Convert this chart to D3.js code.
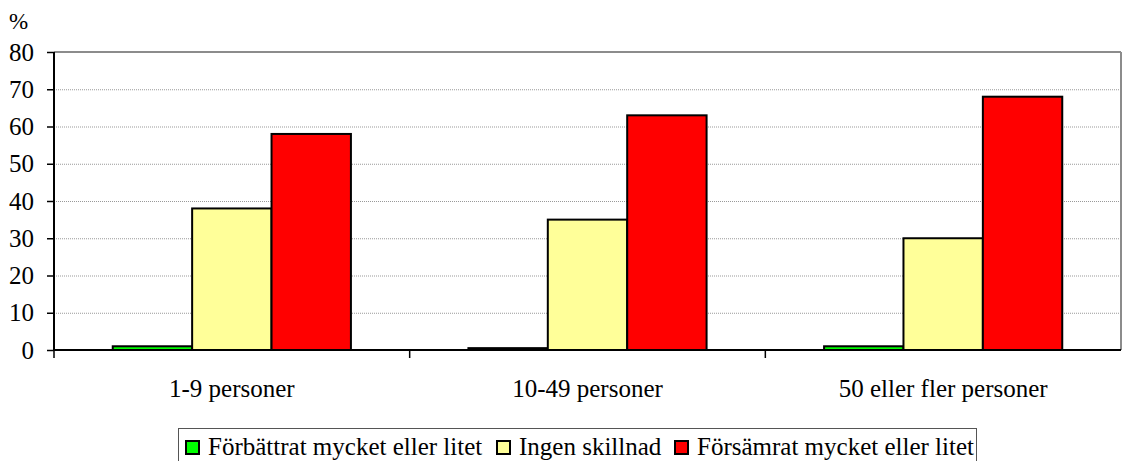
<!DOCTYPE html>
<html>
<head>
<meta charset="utf-8">
<script src="https://cdn.jsdelivr.net/npm/d3@7"></script>
<style>
  html, body { margin: 0; padding: 0; background: #fff; }
  text { font-family: 'Liberation Serif' !important; }
</style>
</head>
<body>
<div id="chart"></div>
<script>
//Datos
const categories = ['1-9 personer', '10-49 personer', '50 eller fler personer'];
const series = ['Förbättrat mycket eller litet', 'Ingen skillnad', 'Försämrat mycket eller litet'];
const forbattrat = [1, 0.5, 1];
const ingenSkillnad = [38, 35, 30];
const forsamrat = [58, 63, 68];
const yTicks = [0, 10, 20, 30, 40, 50, 60, 70, 80];

const values = [forbattrat, ingenSkillnad, forsamrat];
const colors = ['#00FF00', '#FFFF99', '#FF0000'];

const W = 1122, H = 461;
const margin = {top: 52, right: 1, bottom: 111, left: 54};
const width = W - margin.left - margin.right,
      height = H - margin.top - margin.bottom;
const FONT = 25;
const FAMILY = "'Liberation Serif'";

//fuente en cada texto
function serif(sel, size) {
    sel.attr('font-size', size).style('font-family', FAMILY);
}

let svg = d3.select('#chart').append('svg')
    .attr('width', W).attr('height', H);

let g = svg.append('g')
    .attr('transform', 'translate(' + margin.left + ',' + margin.top + ')');

let x0 = d3.scaleBand().domain(categories).range([0, width]);
let x1 = d3.scaleBand().domain(series).range([0, x0.bandwidth()])
    .paddingInner(0).paddingOuter(0.74);
let y = d3.scaleLinear().domain([0, 80]).range([height, 0]);

//Rejilla
g.selectAll('.grid').data(yTicks.filter(d => d > 0 && d < 80)).enter()
    .append('line')
    .attr('x1', 0).attr('x2', width)
    .attr('y1', d => y(d) + 0.5).attr('y2', d => y(d) + 0.5)
    .attr('stroke', '#999').attr('stroke-width', 1)
    .attr('stroke-dasharray', '1,1');

//Borde superior y derecho
g.append('line').attr('x1', 0).attr('x2', width)
    .attr('y1', y(80)).attr('y2', y(80))
    .attr('stroke', '#8c8c8c').attr('stroke-width', 2);
g.append('line').attr('x1', width).attr('x2', width)
    .attr('y1', y(80)).attr('y2', height)
    .attr('stroke', '#8c8c8c').attr('stroke-width', 2);

//Barras
categories.forEach(function(cat, i) {
    let grp = g.append('g').attr('transform', 'translate(' + x0(cat) + ',0)');
    series.forEach(function(s, j) {
        let v = values[j][i];
        grp.append('rect')
            .attr('x', x1(s))
            .attr('y', y(v))
            .attr('width', x1.bandwidth())
            .attr('height', height - y(v))
            .attr('fill', colors[j])
            .attr('stroke', '#000')
            .attr('stroke-width', 2);
    });
});

//Eje Y
let yAxis = g.append('g')
    .call(d3.axisLeft(y).tickValues(yTicks).tickSize(7).tickPadding(13))
    .attr('font-family', null).attr('font-size', null);
yAxis.select('.domain').attr('stroke', '#000').attr('stroke-width', 2)
    .attr('d', 'M0,' + height + 'V0');
yAxis.selectAll('.tick line').attr('stroke', '#000').attr('stroke-width', 1.5);
yAxis.selectAll('text').attr('fill', '#000').call(serif, FONT);

//Eje X
let xAxis = g.append('g').attr('transform', 'translate(0,' + height + ')')
    .call(d3.axisBottom(x0).tickSize(0).tickPadding(29))
    .attr('font-family', null).attr('font-size', null);
xAxis.select('.domain').attr('stroke', '#000').attr('stroke-width', 2)
    .attr('d', 'M0,0H' + width);
xAxis.selectAll('text').attr('fill', '#000').call(serif, FONT);
//marcas entre categorías
g.selectAll('.xtick').data(categories.slice(1)).enter()
    .append('line')
    .attr('x1', d => x0(d)).attr('x2', d => x0(d))
    .attr('y1', height).attr('y2', height + 8)
    .attr('stroke', '#000').attr('stroke-width', 1.5);
g.append('line').attr('x1', 0).attr('x2', 0)
    .attr('y1', height).attr('y2', height + 8)
    .attr('stroke', '#000').attr('stroke-width', 1.5);

//Unidad
svg.append('text').attr('x', 9).attr('y', 29)
    .call(serif, FONT - 2)
    .text('%');

//Leyenda
let legend = svg.append('g');
legend.append('rect')
    .attr('x', 178.5).attr('y', 428.5)
    .attr('width', 798).attr('height', 40)
    .attr('fill', '#fff').attr('stroke', '#555').attr('stroke-width', 1);

const legendX = [186, 497, 675];
series.forEach(function(s, j) {
    legend.append('rect')
        .attr('x', legendX[j]).attr('y', 441)
        .attr('width', 13).attr('height', 13)
        .attr('fill', colors[j]).attr('stroke', '#000').attr('stroke-width', 2);
    legend.append('text')
        .attr('x', legendX[j] + 22).attr('y', 455)
        .call(serif, FONT)
        .text(s);
});
</script>
</body>
</html>
